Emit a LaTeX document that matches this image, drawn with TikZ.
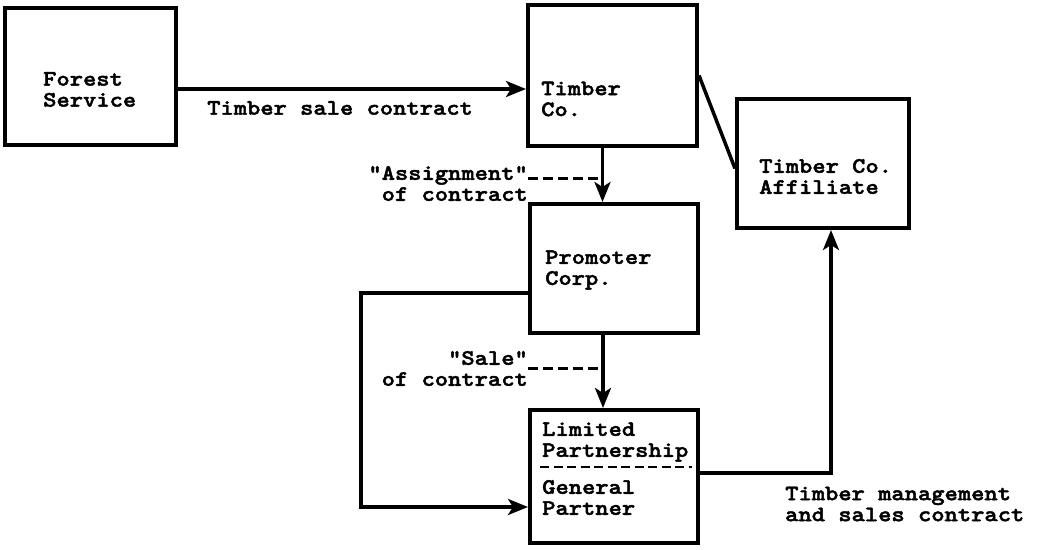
\documentclass[tikz,border=0pt]{standalone}
\usepackage{fontspec}
\newfontfamily\typew{lmmonolt10-bold.otf}[FakeBold=2,FakeStretch=1.15]
\usetikzlibrary{arrows.meta,calc}

\tikzset{
  box/.style={draw, line width=4pt, inner sep=0pt},
  lbl/.style={font=\typew\fontsize{22}{21}\selectfont, inner sep=0pt},
  link/.style={line width=3.5pt},
  dashlink/.style={line width=3pt, dash pattern=on 10pt off 5pt},
  divider/.style={line width=2.8pt, dash pattern=on 9pt off 4.5pt},
}

\begin{document}
\begin{tikzpicture}[x=1pt,y=-1pt,>={Stealth[length=20pt,width=16pt,inset=5pt]}]
    \useasboundingbox (0,0) rectangle (1039,549);
    % boxes
    \node[box, minimum width=171pt, minimum height=137pt] (forest) at (90.5,76.5) {};
    \node[box, minimum width=169pt, minimum height=141pt] (timber) at (612.5,75.5) {};
    \node[box, minimum width=172pt, minimum height=129pt] (affil) at (823,163.5) {};
    \node[box, minimum width=168pt, minimum height=129pt] (promo) at (614,268.5) {};
    \node[box, minimum width=168pt, minimum height=133pt] (lp) at (614,476.5) {};
    % box texts
    \node[lbl, anchor=west, align=left] (forestTxt) at (43,89.5) {Forest\\Service};
    \node[lbl, anchor=west, align=left] (timberTxt) at (541,99) {Timber\\Co.};
    \node[lbl, anchor=west, align=left] (affilTxt) at (759,176.5) {Timber Co.\\Affiliate};
    \node[lbl, anchor=west, align=left] (promoTxt) at (545,270) {Promoter\\Corp.};
    \node[lbl, anchor=west, align=left] (lpTop) at (542,442) {Limited\\Partnership};
    \node[lbl, anchor=west, align=left] (lpBot) at (542,497.5) {General\\Partner};
    \draw[divider] ([xshift=12pt,yshift=9.5pt]lp.west) -- ([xshift=-8pt,yshift=9.5pt]lp.east);
    % contracts
    \draw[link,->] ([yshift=-12.5pt]forest.east) -- ([yshift=-12.5pt]forest.east -| timber.west);
    \node[lbl, anchor=west] (saleTxt) at (207,108) {Timber sale contract};
    \draw[link] (timber.east) -- ([yshift=-5pt]affil.west);
    \coordinate (a1) at ([xshift=-10pt]timber.south);
    \draw[link,->] (a1) -- (a1 |- promo.north);
    \node[lbl, anchor=east, align=right] (assign) at (528,183.5) {"Assignment"\\of contract};
    \draw[dashlink] ([yshift=5.5pt]assign.east) -- ([yshift=5.5pt]assign.east -| a1);
    \coordinate (a2) at ([xshift=-11pt]promo.south);
    \draw[link,->] (a2) -- (a2 |- lp.north);
    \node[lbl, anchor=east, align=right] (sale) at (528,368.5) {"Sale"\\of contract};
    \draw[dashlink] (sale.east) -- (sale.east -| a2);
    \draw[link,->] ([yshift=-24.5pt]promo.west) -- ++(-167,0) |- ([yshift=-30.5pt]lp.west);
    \draw[link,->] ([yshift=3.5pt]lp.east) -| ([xshift=8pt]affil.south);
    \node[lbl, anchor=west, align=left] (mgmt) at (785,504) {Timber management\\and sales contract};
\end{tikzpicture}
\end{document}
